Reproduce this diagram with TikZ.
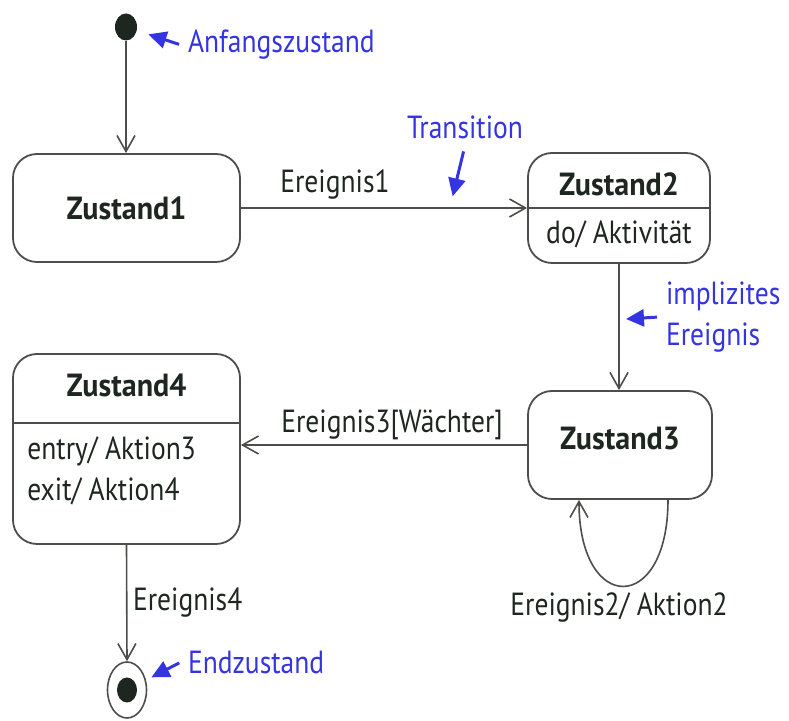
\documentclass[tikz,border=0pt]{standalone}
\usepackage{fontspec}
\setmainfont{PT Sans}[FakeStretch=0.86]
\newfontfamily\titelschrift{PT Sans}[FakeStretch=0.94]
\usetikzlibrary{arrows.meta, shapes.geometric}

\definecolor{blau}{RGB}{52,52,225}
\definecolor{linie}{RGB}{75,78,75}
\definecolor{schrift}{RGB}{30,38,32}

\begin{document}
\begin{tikzpicture}[x=0.5pt, y=-0.5pt, >={Straight Barb[length=8pt, width=9pt]},
    font=\fontsize{16}{19}\selectfont, text=schrift,
    zustand/.style={draw=linie, line width=0.9pt, rounded corners=12pt, inner sep=0pt},
    titel/.style={font=\fontsize{16}{19}\selectfont\titelschrift\bfseries},
    uebergang/.style={->, draw=linie, line width=0.8pt},
    notiz/.style={text=blau},
    zeiger/.style={-{Triangle[length=9pt, width=8.5pt]}, draw=blau, fill=blau, line width=1.5pt}]

    \useasboundingbox (0,0) rectangle (789,721);

    % start and end
    \node[ellipse, fill=schrift, minimum width=11pt, minimum height=13.5pt, inner sep=0pt] (start) at (126,27) {};
    \node[ellipse, draw=linie, line width=0.8pt, minimum width=19.5pt, minimum height=28pt, inner sep=0pt] (ende) at (127,690) {};
    \node[ellipse, fill=schrift, minimum width=10pt, minimum height=12.5pt, inner sep=0pt] at (ende) {};

    % states
    \node[zustand, minimum width=113.5pt, minimum height=54pt] (z1) at (126.5,208) {};
    \node[titel] at (z1) {Zustand1};

    \node[zustand, minimum width=91pt, minimum height=55pt] (z2) at (619,208) {};
    \node[titel] (z2titel) at (619,184) {Zustand2};
    \node (z2do) at (619,234) {do/ Aktivität};
    \draw[linie, line width=0.9pt] (z2.west) -- (z2.east);

    \node[zustand, minimum width=92pt, minimum height=54pt] (z3) at (620,445) {};
    \node[titel] at (620,439) {Zustand3};

    \node[zustand, minimum width=113.5pt, minimum height=95pt] (z4) at (126.5,449) {};
    \node[titel] (z4titel) at (126.5,385) {Zustand4};
    \draw[linie, line width=0.9pt] (z4.west |- 0,423) -- (z4.east |- 0,423);
    \node[anchor=north west, align=left, inner sep=0pt, font=\fontsize{16}{20.5}\selectfont] (z4text) at (27,436) {entry/ Aktion3\\exit/ Aktion4};

    % transitions
    \draw[uebergang] (start) -- (start |- z1.north);
    \draw[uebergang] (z1.east) -- (z1.east -| z2.west) coordinate[pos=0.73] (tpunkt);
    \node (e1) at (335,185) {Ereignis1};
    \draw[uebergang] (z2.south) -- (z2.south |- z3.north) coordinate[pos=0.44] (ipunkt);
    \draw[uebergang] (z3.west) -- (z3.west -| z4.east);
    \node (e3) at (392,425) {Ereignis3[Wächter]};
    \draw[uebergang] ([xshift=24pt]z3.south) .. controls +(0,115) and +(0,115) .. ([xshift=-20.5pt]z3.south);
    \node (e2) at (619,608) {Ereignis2/ Aktion2};
    \draw[uebergang] (z4.south) -- (ende.north);
    \node[anchor=west] (e4) at (126,603) {Ereignis4};

    % notes
    \node[notiz, anchor=west] (anf) at (181,45) {Anfangszustand};
    \draw[zeiger, shorten <=1pt, shorten >=6pt] (anf.west) -- (start);

    \node[notiz] (trans) at (465,127) {Transition};
    \draw[zeiger, shorten <=3pt, shorten >=6pt] (trans.south) -- (tpunkt);

    \node[notiz, anchor=west, align=left, font=\fontsize{16}{20.5}\selectfont] (impl) at (659,317) {implizites\\Ereignis};
    \draw[zeiger, shorten <=1pt, shorten >=3.5pt] (impl.west) -- (ipunkt);

    \node[notiz, anchor=west] (endz) at (181,662) {Endzustand};
    \draw[zeiger, shorten <=1pt, shorten >=3pt] (endz.west) -- (ende);
\end{tikzpicture}
\end{document}
